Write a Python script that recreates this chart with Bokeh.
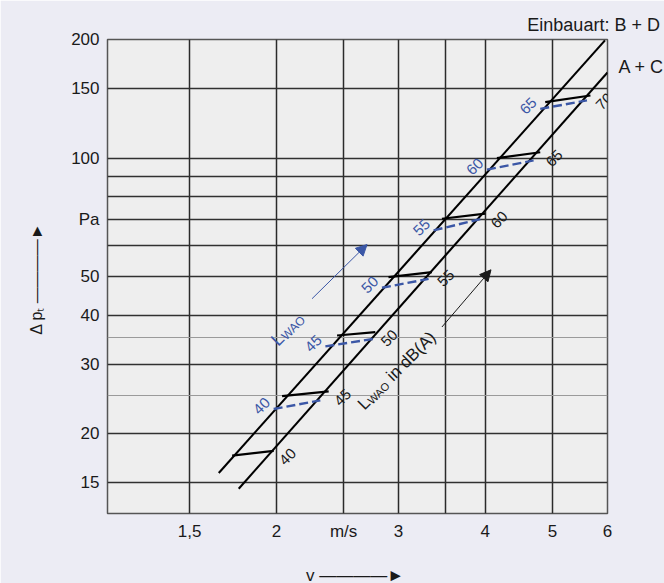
import math
from bokeh.plotting import figure
from bokeh.models import FixedTicker, Label, Arrow, NormalHead, Range1d, Grid, LogAxis
from bokeh.core.properties import value
from bokeh.embed import file_html
from bokeh.resources import INLINE

FONT = "Liberation Sans"
BLUE = "#3b57a6"
INK = "#1a1a1a"

# ---- axes -------------------------------------------------------------
x_ticks = [1.5, 2, 2.5, 3, 4, 5, 6]
x_tick_labels = ["1,5", "2", "m/s", "3", "4", "5", "6"]
y_ticks = [15, 20, 30, 40, 50, 70, 100, 150, 200]
y_tick_labels = ["15", "20", "30", "40", "50", "Pa", "100", "150", "200"]
x_grid = [1.5, 2, 2.5, 3, 3.5, 4, 5]
y_grid = [15, 20, 30, 40, 50, 60, 70, 80, 90, 100, 150]
y_grid_light = [25, 35]
x_title = "v  ————►"
y_title = "Δ pₜ  ————►"

# ---- characteristic lines (v in m/s, delta p in Pa) -------------------
bd_name = "Einbauart: B + D"
bd_v = [1.652, 5.95]
bd_dp = [15.9, 199.0]
bd_label_v = 5.73          # centre of the caption above the frame
ac_name = "A + C"
ac_v = [1.765, 6.0]
ac_dp = [14.5, 165.0]
ac_label_dp = 170.0        # caption right of the frame

# ---- sound power level cross lines ------------------------------------
blk_levels = [40, 45, 50, 55, 60, 65, 70]
blk_v0 = [1.727, 2.038, 2.446, 2.901, 3.464, 4.157, 4.88]
blk_p0 = [17.6, 24.9, 35.5, 49.9, 70.2, 100.0, 138.7]
blk_v1 = [1.982, 2.379, 2.777, 3.351, 4.0, 4.8, 5.67]
blk_p1 = [18.1, 25.6, 36.2, 51.4, 72.3, 103.5, 144.2]

blu_levels = [40, 45, 50, 55, 60, 65]
blu_v0 = [1.982, 2.353, 2.839, 3.37, 4.022, 4.8]
blu_p0 = [23.1, 33.3, 46.9, 65.6, 93.5, 133.4]
blu_v1 = [2.314, 2.762, 3.314, 3.956, 4.695, 5.605]
blu_p1 = [24.3, 34.8, 49.4, 70.2, 98.7, 140.1]

# ---- annotation anchors (data coordinates) ----------------------------
blu_arrow = [(2.251, 44.0), (2.702, 60.4)]
blk_arrow = [(3.464, 37.3), (4.076, 52.1)]
blu_text_at = (1.985, 34.0)
blk_text_at = (2.645, 23.4)

p = figure(frame_width=500, frame_height=474,
           x_axis_type="log", y_axis_type="log",
           x_range=Range1d(1.142, 6.0), y_range=Range1d(12.55, 200),
           output_backend="svg", toolbar_location=None,
           min_border_left=107, min_border_right=57,
           min_border_top=39, min_border_bottom=70,
           background_fill_color="#eeeeee", border_fill_color="#ececf4",
           outline_line_color="#555555", outline_line_width=1.5)


def style_axis(ax, ticks, labels, size="17px"):
    ax.ticker = FixedTicker(ticks=ticks)
    ax.major_label_overrides = dict(zip(ticks, labels))
    ax.major_tick_in = 0
    ax.major_tick_out = 0
    ax.minor_tick_in = 0
    ax.minor_tick_out = 0
    ax.axis_line_color = None
    ax.major_label_text_font = FONT
    ax.major_label_text_font_size = size
    ax.major_label_text_color = INK


style_axis(p.xaxis[0], x_ticks, x_tick_labels)
style_axis(p.yaxis[0], y_ticks, y_tick_labels)
p.xaxis.major_label_standoff = 8
p.yaxis.major_label_standoff = 8

p.xaxis.axis_label = x_title
p.xaxis.axis_label_text_font = FONT
p.xaxis.axis_label_text_font_size = "17px"
p.xaxis.axis_label_text_font_style = "normal"
p.xaxis.axis_label_text_color = INK
p.xaxis.axis_label_standoff = 22

p.yaxis.axis_label = y_title
p.yaxis.axis_label_text_font = FONT
p.yaxis.axis_label_text_font_size = "16px"
p.yaxis.axis_label_text_font_style = "normal"
p.yaxis.axis_label_text_color = INK
p.yaxis.axis_label_standoff = 23

# captions of the two characteristic lines, set as label-only axes
top_ax = LogAxis()
style_axis(top_ax, [bd_label_v], [bd_name], "18px")
top_ax.major_label_standoff = 5
p.add_layout(top_ax, "above")

right_ax = LogAxis()
style_axis(right_ax, [ac_label_dp], [ac_name], "18px")
right_ax.major_label_standoff = 11
p.add_layout(right_ax, "right")

p.xgrid.ticker = FixedTicker(ticks=x_grid)
p.xgrid.grid_line_color = "#2a2a2a"
p.xgrid.grid_line_width = 1.5
p.ygrid.ticker = FixedTicker(ticks=y_grid)
p.ygrid.grid_line_color = "#303030"
p.ygrid.grid_line_width = 1.5
p.add_layout(Grid(dimension=1, ticker=FixedTicker(ticks=y_grid_light),
                  grid_line_color="#9a9a9a", grid_line_width=1.2))

# characteristic lines
p.line(bd_v, bd_dp, line_color="black", line_width=2.1)
p.line(ac_v, ac_dp, line_color="black", line_width=2.1)

# cross lines
p.segment(x0=blk_v0, y0=blk_p0, x1=blk_v1, y1=blk_p1, line_color="black", line_width=2.2)
p.segment(x0=blu_v0, y0=blu_p0, x1=blu_v1, y1=blu_p1, line_color=BLUE,
          line_width=2.4, line_dash="9 4")

ang = math.radians(45)
p.text(x=blk_v1, y=blk_p1, text=[str(v) for v in blk_levels], angle=ang,
       x_offset=14, y_offset=6, text_align="center", text_baseline="middle",
       text_font=value(FONT), text_font_size="15px", text_color=INK)
p.text(x=blu_v0, y=blu_p0, text=[str(v) for v in blu_levels], angle=ang,
       x_offset=-12, y_offset=-3, text_align="center", text_baseline="middle",
       text_font=value(FONT), text_font_size="15px", text_color=BLUE)


def along(d, perp=0.0):
    c, s = math.cos(ang), math.sin(ang)
    dx = d * c + perp * s
    dy = -d * s + perp * c          # screen, down positive
    return dx, -dy                  # Label y_offset is upward


WIDTHS = {"L": 0.556, "W": 0.944, "A": 0.667, "O": 0.778, " ": 0.278, "i": 0.222,
          "n": 0.556, "d": 0.556, "B": 0.667, "(": 0.333, ")": 0.333}


def rotated_label(at, parts, color):
    d = 0.0
    for txt, size, perp, gap in parts:
        d += gap
        xo, yo = along(d, perp)
        p.add_layout(Label(x=at[0], y=at[1], x_offset=xo, y_offset=yo, text=txt,
                           angle=ang, text_font=FONT, text_font_size=f"{size}px",
                           text_color=color, text_align="left",
                           text_baseline="alphabetic"))
        d += sum(WIDTHS.get(ch, 0.556) for ch in txt) * size


rotated_label(blu_text_at, [("L", 18, 0, 0), ("WAO", 12, 3, 0)], BLUE)
rotated_label(blk_text_at, [("L", 17, 0, 0), ("WAO", 11, 3, 0), ("in dB(A)", 17, 0, 5)], INK)

p.add_layout(Arrow(x_start=blu_arrow[0][0], y_start=blu_arrow[0][1],
                   x_end=blu_arrow[1][0], y_end=blu_arrow[1][1],
                   line_color=BLUE, line_width=1,
                   end=NormalHead(size=11, fill_color=BLUE, line_color=BLUE)))
p.add_layout(Arrow(x_start=blk_arrow[0][0], y_start=blk_arrow[0][1],
                   x_end=blk_arrow[1][0], y_end=blk_arrow[1][1],
                   line_color=INK, line_width=1,
                   end=NormalHead(size=11, fill_color=INK, line_color=INK)))

open("out.html", "w").write(file_html(p, INLINE))
